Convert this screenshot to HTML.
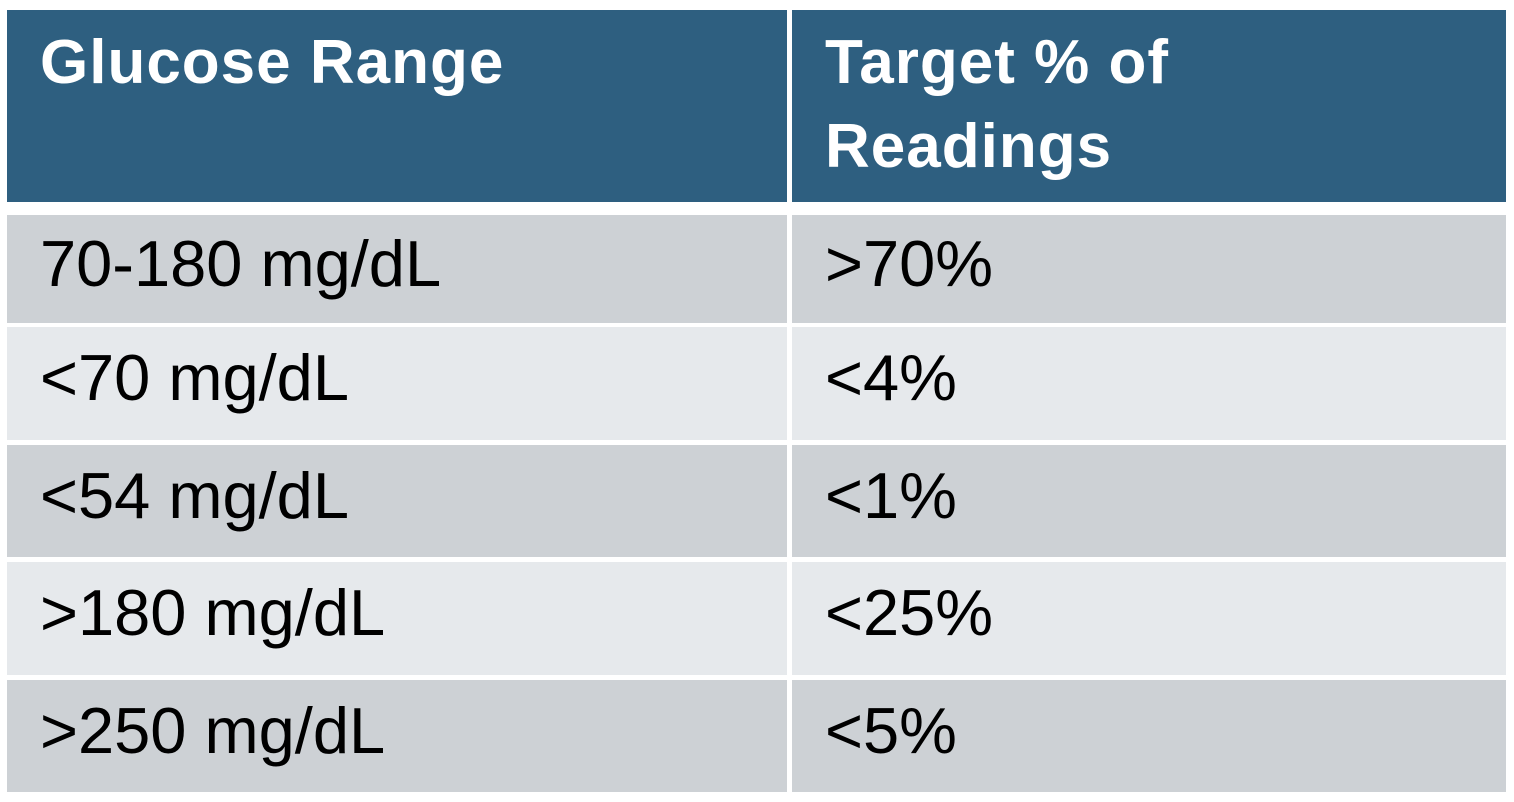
<!DOCTYPE html>
<html><head><meta charset="utf-8">
<style>
html,body{margin:0;padding:0;background:#fff;width:1514px;height:802px;overflow:hidden;position:relative;font-family:"Liberation Sans",sans-serif;}
.c{position:absolute;box-sizing:border-box;}
.h{background:#2e5f80;color:#fff;font-weight:bold;font-size:62px;line-height:84px;padding:11px 0 0 33px;letter-spacing:1px;}
.r{font-size:65px;color:#000;padding-left:33px;padding-bottom:12px;display:flex;align-items:center;}
.o{background:#cdd1d5;}
.e{background:#e6e9ec;}
</style></head><body>
<div class="c h" style="left:7px;top:10px;width:780px;height:192px;">Glucose Range</div>
<div class="c h" style="left:792px;top:10px;width:714px;height:192px;">Target % of<br>Readings</div>

<div class="c r o" style="left:7px;top:215px;width:780px;height:108px;">70-180 mg/dL</div>
<div class="c r o" style="left:792px;top:215px;width:714px;height:108px;">&gt;70%</div>

<div class="c r e" style="left:7px;top:327px;width:780px;height:113px;">&lt;70 mg/dL</div>
<div class="c r e" style="left:792px;top:327px;width:714px;height:113px;">&lt;4%</div>

<div class="c r o" style="left:7px;top:445px;width:780px;height:112px;">&lt;54 mg/dL</div>
<div class="c r o" style="left:792px;top:445px;width:714px;height:112px;">&lt;1%</div>

<div class="c r e" style="left:7px;top:562px;width:780px;height:113px;">&gt;180 mg/dL</div>
<div class="c r e" style="left:792px;top:562px;width:714px;height:113px;">&lt;25%</div>

<div class="c r o" style="left:7px;top:680px;width:780px;height:112px;">&gt;250 mg/dL</div>
<div class="c r o" style="left:792px;top:680px;width:714px;height:112px;">&lt;5%</div>
</body></html>
